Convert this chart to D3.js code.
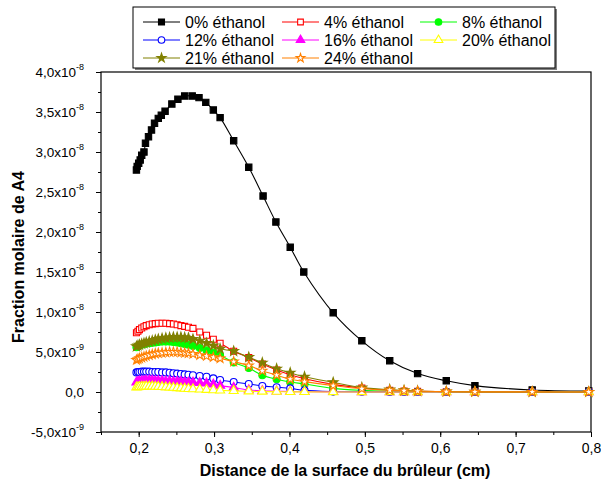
<!DOCTYPE html>
<html><head><meta charset="utf-8">
<script src="https://cdn.jsdelivr.net/npm/d3@7"></script>
<style>body{margin:0;background:#fff;} text{font-family:Arial,"Liberation Sans",sans-serif;}</style>
</head><body><svg id="c" width="601" height="484"></svg>
<script>
// ---- data (values in units of 1e-9) ----
const seriesLabels = ["0% éthanol","4% éthanol","8% éthanol","12% éthanol","16% éthanol","20% éthanol","21% éthanol","24% éthanol"];
const xBlack = [0.197,0.198,0.200,0.202,0.204,0.207,0.209,0.213,0.217,0.221,0.226,0.230,0.235,0.244,0.252,0.261,0.271,0.280,0.289,0.299,0.308,0.326,0.346,0.365,0.382,0.401,0.419,0.458,0.496,0.533,0.570,0.608,0.646,0.722,0.797];
const yBlack = [27.75,28.2,28.6,29.0,29.6,30.0,31.1,31.9,32.75,33.6,34.2,34.6,35.1,36.0,36.6,37.0,37.0,36.8,36.2,35.25,34.3,31.4,28.1,24.5,21.25,18.1,15.0,9.9,6.4,3.9,2.3,1.4,0.8,0.25,0.12];
const xGrid = [0.197,0.199,0.201,0.204,0.207,0.210,0.214,0.218,0.222,0.226,0.231,0.236,0.241,0.246,0.251,0.256,0.261,0.266,0.272,0.281,0.290,0.299,0.308,0.326,0.346,0.364,0.383,0.401,0.420,0.458,0.496,0.533,0.552,0.570,0.608,0.646,0.722,0.797];
const y4  = [7.4,7.6,7.8,8.0,8.15,8.3,8.4,8.5,8.55,8.6,8.6,8.6,8.55,8.5,8.4,8.3,8.2,8.1,7.95,7.5,7.1,6.6,6.1,5.1,4.3,3.5,2.75,2.15,1.65,0.95,0.5,0.22,0.13,0.08,0.03,0.01,0,0];
const y8  = [5.6,5.7,5.8,5.9,6.0,6.05,6.1,6.15,6.2,6.25,6.3,6.3,6.3,6.25,6.2,6.1,6.0,5.9,5.75,5.5,5.2,4.9,4.6,3.7,3.0,2.1,1.6,1.25,1.0,0.45,0.2,0.08,0.05,0.03,0.01,0,0,0];
const y12 = [2.45,2.5,2.5,2.55,2.55,2.55,2.55,2.5,2.5,2.5,2.45,2.45,2.4,2.35,2.3,2.25,2.2,2.15,2.1,2.0,1.9,1.7,1.5,1.25,1.0,0.75,0.6,0.45,0.2,0.05,0.02,0.01,0,0,0,0,0,0];
const y16 = [1.2,1.3,1.35,1.4,1.4,1.45,1.45,1.45,1.4,1.4,1.4,1.35,1.35,1.3,1.3,1.3,1.25,1.2,1.2,1.15,1.1,0.95,0.8,0.55,0.25,0.15,0.1,0.05,0.03,0.01,0,0,0,0,0,0,0,0];
const y20 = [0.6,0.62,0.65,0.67,0.68,0.7,0.7,0.7,0.68,0.66,0.64,0.6,0.57,0.54,0.5,0.47,0.43,0.4,0.36,0.32,0.28,0.24,0.2,0.14,0.09,0.06,0.04,0.02,0.01,0,0,0,0,0,0,0,0,0];
const y21 = [5.7,5.8,5.9,6.0,6.1,6.2,6.3,6.4,6.5,6.6,6.7,6.75,6.8,6.85,6.85,6.85,6.8,6.75,6.6,6.4,6.1,5.8,5.4,5.1,4.35,3.65,2.9,2.4,1.9,1.2,0.55,0.3,0.2,0.12,0.05,0.02,0,0];
const y24 = [4.0,4.1,4.2,4.3,4.4,4.5,4.6,4.7,4.8,4.85,4.9,4.95,5.0,5.0,5.0,4.95,4.9,4.85,4.75,4.6,4.5,4.35,4.2,3.8,3.3,2.65,2.1,1.6,1.3,0.8,0.4,0.22,0.15,0.1,0.05,0.02,0.01,0];
const xTicks = [0.2,0.3,0.4,0.5,0.6,0.7,0.8];
const xTickLabels = ["0,2","0,3","0,4","0,5","0,6","0,7","0,8"];
const yTicks = [-5,0,5,10,15,20,25,30,35,40];
const yTickMant = ["-5,0x10","0,0","5,0x10","1,0x10","1,5x10","2,0x10","2,5x10","3,0x10","3,5x10","4,0x10"];
const yTickExp = ["-9","","-9","-8","-8","-8","-8","-8","-8","-8"];

// ---- styles ----
const colors = ["#000000","#ff0000","#00ff00","#0000ff","#ff00ff","#ffff00","#808000","#ff8000"];
const symbols = [d3.symbolSquare,d3.symbolSquare,d3.symbolCircle,d3.symbolCircle,d3.symbolTriangle,d3.symbolTriangle,d3.symbolStar,d3.symbolStar];
const filled = [true,false,true,false,true,false,true,false];
const symSize = [40,36,38,38,36,36,28,26];

const series = [
  {x:xBlack, y:yBlack},
  {x:xGrid, y:y4},{x:xGrid, y:y8},{x:xGrid, y:y12},{x:xGrid, y:y16},
  {x:xGrid, y:y20},{x:xGrid, y:y21},{x:xGrid, y:y24}
];

const svg = d3.select("#c");
const L=101, R=591, T=72, B=432;
const x = d3.scaleLinear().domain([0.15,0.8]).range([L,R]);
const y = d3.scaleLinear().domain([-5,40]).range([B,T]);

// frame
svg.append("rect").attr("x",L).attr("y",T).attr("width",R-L).attr("height",B-T)
  .attr("fill","none").attr("stroke","#000").attr("stroke-width",1.2);

// x axis ticks
const xMinor = d3.range(0.15,0.8001,0.05).map(v=>+v.toFixed(3));
const gx = svg.append("g").attr("transform",`translate(0,${B})`);
gx.call(d3.axisBottom(x).tickValues(xMinor).tickSize(3).tickFormat(""));
gx.append("g").call(d3.axisBottom(x).tickValues(xTicks).tickSize(5).tickFormat((d,i)=>xTickLabels[i]));
gx.selectAll(".domain").remove();
gx.selectAll("text").attr("font-size",14).attr("fill","#000").attr("dy","0.95em").attr("font-family","Arial, 'Liberation Sans', sans-serif");
gx.selectAll("line").attr("stroke","#000");

// y axis ticks
const yMinor = d3.range(-5,40.01,2.5);
const gy = svg.append("g").attr("transform",`translate(${L},0)`);
gy.call(d3.axisLeft(y).tickValues(yMinor).tickSize(3).tickFormat(""));
const gyM = gy.append("g").call(d3.axisLeft(y).tickValues(yTicks).tickSize(5).tickFormat(""));
gy.selectAll(".domain").remove();
gy.selectAll("line").attr("stroke","#000");
gyM.selectAll(".tick").each(function(d,i){
  const t = d3.select(this).append("text").attr("x",-13).attr("dy","0.35em")
    .attr("text-anchor","end").attr("fill","#000").attr("font-size",13.5)
    .attr("font-family","Arial, 'Liberation Sans', sans-serif");
  t.append("tspan").text(yTickMant[i]);
  if (yTickExp[i]) t.append("tspan").attr("font-size",9).attr("dy","-0.75em").text(yTickExp[i]);
});
gyM.selectAll(".tick text").attr("x",-17);
gyM.selectAll(".tick").filter((d,i)=>!yTickExp[i]).select("text").attr("x",-11);

// titles
svg.append("text").attr("x",(L+R)/2 - 1).attr("y",476).attr("text-anchor","middle")
  .attr("font-size",16).attr("font-weight","bold").text("Distance de la surface du brûleur (cm)");
svg.append("text").attr("transform","translate(24,257) rotate(-90)").attr("text-anchor","middle")
  .attr("font-size",16).attr("font-weight","bold").text("Fraction molaire de A4");

// curves
const plot = svg.append("g");
const line = d3.line().x(d=>x(d[0])).y(d=>y(d[1])).curve(d3.curveCatmullRom.alpha(0.5));
series.forEach((s,i)=>{
  const pts = s.x.map((v,j)=>[v,s.y[j]]);
  plot.append("path").datum(pts).attr("d",line).attr("fill","none")
    .attr("stroke",colors[i]).attr("stroke-width",1.1);
  const sym = d3.symbol().type(symbols[i]).size(symSize[i]);
  plot.selectAll(null).data(pts).enter().append("path")
    .attr("d",sym).attr("transform",d=>`translate(${x(d[0])},${y(d[1])})`)
    .attr("fill",filled[i]?colors[i]:"#fff").attr("stroke",colors[i]).attr("stroke-width",1.1);
});

// legend
const lg = svg.append("g");
lg.append("rect").attr("x",135).attr("y",9).attr("width",422).attr("height",61).attr("fill","#808080");
lg.append("rect").attr("x",133).attr("y",7).attr("width",422).attr("height",61).attr("fill","#fff").attr("stroke","#000").attr("stroke-width",1);
const colX=[143,282,420], rowY=[22,40,58];
seriesLabels.forEach((lab,i)=>{
  const cx = colX[i%3], cy = rowY[Math.floor(i/3)];
  const g = lg.append("g").attr("transform",`translate(${cx},${cy})`);
  g.append("line").attr("x1",0).attr("x2",37).attr("y1",0).attr("y2",0).attr("stroke",colors[i]).attr("stroke-width",1);
  g.append("path").attr("d",d3.symbol().type(symbols[i]).size(symSize[i]*0.9)()).attr("transform","translate(18.5,0)")
    .attr("fill",filled[i]?colors[i]:"#fff").attr("stroke",colors[i]).attr("stroke-width",1.1);
  g.append("text").attr("x",42).attr("y",0).attr("dy","0.36em").attr("font-size",16).attr("fill","#000").text(lab);
});
</script></body></html>
